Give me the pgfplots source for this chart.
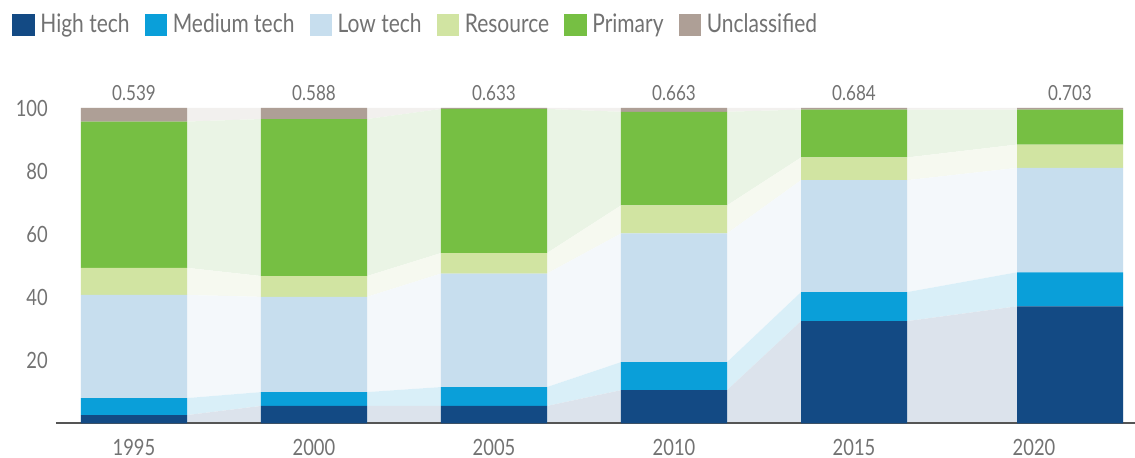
\documentclass[border=0pt]{standalone}
\usepackage{pgfplots}
\usepackage{pgfplotstable}
\pgfplotsset{compat=1.18}
\usepackage{fontspec}
\setmainfont{Lato}[FakeStretch=0.82]
\definecolor{cH}{HTML}{134A84}
\definecolor{cM}{HTML}{0A9FD9}
\definecolor{cL}{HTML}{C7DEEE}
\definecolor{cR}{HTML}{D1E4A2}
\definecolor{cP}{HTML}{76BF43}
\definecolor{cU}{HTML}{AE9F96}
\definecolor{rH}{HTML}{DCE3EC}
\definecolor{rM}{HTML}{D9EFF8}
\definecolor{rL}{HTML}{F4F8FB}
\definecolor{rR}{HTML}{F6F9F0}
\definecolor{rP}{HTML}{EAF4E5}
\definecolor{rU}{HTML}{F2F0EE}
\definecolor{txt}{HTML}{727272}
\definecolor{axl}{HTML}{555555}

% shares by year (bar centres; 2020 bar sits slightly right of its tick)
\pgfplotstableread{
x    h    m    l    r   p    u   top lab
0    2.6  5.4  32.7 8.6 46.4 4.3 100 0.539
1    5.5  4.4  30.2 6.6 49.8 3.5 100 0.588
2    5.5  6.0  36.0 6.5 45.7 0.3 100 0.633
3    10.5 8.9  40.8 8.9 29.7 1.2 100 0.663
4    32.4 9.2  35.5 7.2 15.2 0.5 100 0.684
5.2  37.1 10.8 33.1 7.4 11.1 0.5 100 0.703
}\bars

% same shares at the bar edges, for the connecting ribbons
\pgfplotstableread{
x       h    m    l    r   p    u
-0.2945 2.6  5.4  32.7 8.6 46.4 4.3
0.2945  2.6  5.4  32.7 8.6 46.4 4.3
0.7055  5.5  4.4  30.2 6.6 49.8 3.5
1.2945  5.5  4.4  30.2 6.6 49.8 3.5
1.7055  5.5  6.0  36.0 6.5 45.7 0.3
2.2945  5.5  6.0  36.0 6.5 45.7 0.3
2.7055  10.5 8.9  40.8 8.9 29.7 1.2
3.2945  10.5 8.9  40.8 8.9 29.7 1.2
3.7055  32.4 9.2  35.5 7.2 15.2 0.5
4.2945  32.4 9.2  35.5 7.2 15.2 0.5
4.9055  37.1 10.8 33.1 7.4 11.1 0.5
5.4945  37.1 10.8 33.1 7.4 11.1 0.5
}\edges

\pgfplotsset{
  common/.style={
    scale only axis,
    width=539.5pt, height=157.65pt,
    at={(28pt,17.35pt)}, anchor=south west,
    xmin=-0.4333, xmax=5.5611,
    ymin=0, ymax=100,
  }
}

\begin{document}
\begin{tikzpicture}
\useasboundingbox (0,0) rectangle (567.5pt,229pt);
% ribbons
\begin{axis}[common, hide axis, stack plots=y]
\addplot[fill=rH, draw=none] table[x=x,y=h] {\edges} \closedcycle;
\addplot[fill=rM, draw=none] table[x=x,y=m] {\edges} \closedcycle;
\addplot[fill=rL, draw=none] table[x=x,y=l] {\edges} \closedcycle;
\addplot[fill=rR, draw=none] table[x=x,y=r] {\edges} \closedcycle;
\addplot[fill=rP, draw=none] table[x=x,y=p] {\edges} \closedcycle;
\addplot[fill=rU, draw=none] table[x=x,y=u] {\edges} \closedcycle;
\end{axis}
% bars
\begin{axis}[common,
  ybar stacked, bar width=0.589,
  clip=false,
  axis x line*=bottom, axis y line*=left,
  y axis line style={draw=none},
  x axis line style={draw=axl, line width=0.8pt},
  major tick length=0pt,
  xtick={0,1,2,3,4,5},
  xticklabels={1995,2000,2005,2010,2015,2020},
  ytick={20,40,60,80,100},
  /pgf/number format/assume math mode=true,
  tick label style={font=\fontsize{11.2}{13}\selectfont, text=txt},
  xticklabel style={yshift=-4.3pt},
  yticklabel style={xshift=-0.6pt},
  legend style={at={(-0.0408,1.263)}, anchor=west, draw=none, fill=none,
    inner sep=0pt, font=\fontsize{12.8}{15}\selectfont, text=txt,
    legend columns=-1,
    /tikz/every even column/.append style={column sep=5.6pt}},
  legend image code/.code={\fill[#1] (0pt,-5.6pt) rectangle (11.25pt,5.6pt);
    \path (12pt,0pt);},
]
\addplot[fill=cH, draw=none] table[x=x,y=h] {\bars};
\addplot[fill=cM, draw=none] table[x=x,y=m] {\bars};
\addplot[fill=cL, draw=none] table[x=x,y=l] {\bars};
\addplot[fill=cR, draw=none] table[x=x,y=r] {\bars};
\addplot[fill=cP, draw=none] table[x=x,y=p] {\bars};
\addplot[fill=cU, draw=none] table[x=x,y=u] {\bars};
\legend{High tech, Medium tech, Low tech, Resource, Primary, Unclassified}
\end{axis}
% value labels above the bars
\begin{axis}[common, hide axis, clip=false]
\addplot[draw=none, mark=none, nodes near coords, point meta=explicit symbolic,
  nodes near coords style={font=\fontsize{10.4}{12}\selectfont, text=txt, anchor=south}]
  table[x=x,y=top,meta=lab] {\bars};
\end{axis}
\end{tikzpicture}
\end{document}
